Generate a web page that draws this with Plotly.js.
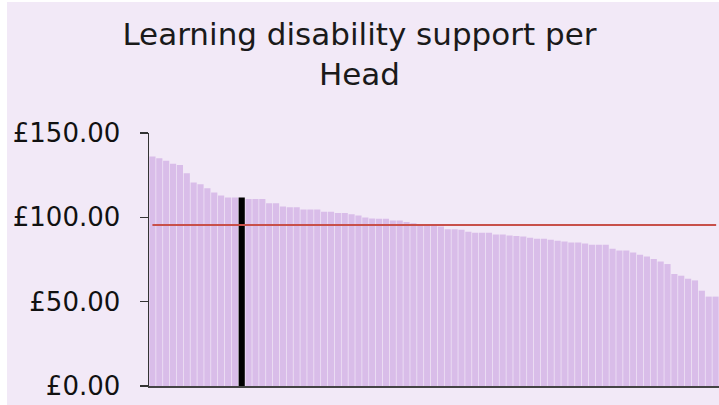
<!DOCTYPE html>
<html>
<head>
<meta charset="utf-8">
<script src="https://cdn.plot.ly/plotly-3.0.1.min.js"></script>
<style>
  html, body { margin: 0; padding: 0; background: #ffffff; width: 719px; height: 405px; overflow: hidden; }
  #chart { position: absolute; left: 7px; top: 2px; width: 712px; height: 403px; }
</style>
</head>
<body>
<div id="chart"></div>
<script>
// Learning disability support per head, sorted descending (one bar per authority)
const supportPerHead = [
  136.0, 135.0, 133.6, 131.7, 131.1, 126.2, 120.6, 119.6, 117.3, 114.7,
  112.9, 111.7, 111.7, 111.7, 110.8, 110.8, 110.8, 108.4, 108.4, 106.4,
  106.0, 106.0, 104.6, 104.6, 104.6, 103.3, 103.3, 102.5, 102.5, 101.9,
  101.1, 99.9, 99.3, 99.1, 99.1, 98.1, 98.1, 97.2, 96.5, 96.0,
  95.3, 95.0, 94.5, 93.0, 93.0, 92.6, 91.4, 90.8, 90.8, 90.8,
  89.8, 89.8, 89.2, 88.9, 88.6, 87.9, 87.3, 87.3, 86.7, 86.1,
  85.6, 85.1, 85.1, 84.5, 83.7, 83.7, 83.7, 81.4, 80.4, 80.4,
  79.2, 77.8, 76.8, 75.3, 73.8, 72.3, 66.4, 65.4, 63.6, 62.6,
  56.5, 53.0, 53.0
];
const highlightedIndex = 13;     // the selected authority (black bar)
const averageValue = 95.4;       // red average line
const yTickValues = [0, 50, 100, 150];
const yTickLabels = ["£0.00", "£50.00", "£100.00", "£150.00"];
const chartTitle = "Learning disability support per<br>Head";

const authorities = supportPerHead.map((_, i) => "Authority " + (i + 1));
const barColors = supportPerHead.map((_, i) => i === highlightedIndex ? "#000000" : "#d9bde9");

const trace = {
  type: "bar",
  x: authorities,
  y: supportPerHead,
  marker: { color: barColors, line: { width: 0 } },
  hoverinfo: "skip"
};

const layout = {
  width: 712,
  height: 403,
  paper_bgcolor: "#f2e9f7",
  plot_bgcolor: "#f2e9f7",
  margin: { l: 142, r: 0, t: 131, b: 18.5, pad: 0 },
  bargap: 0.1,
  showlegend: false,
  font: { family: "DejaVu Sans, Verdana, sans-serif", color: "#111111" },
  title: {
    text: chartTitle,
    font: { family: "DejaVu Sans, Verdana, sans-serif", size: 31, color: "#1a1a1a" },
    x: 0.495, xref: "container", xanchor: "center",
    y: 0.8935, yref: "container", yanchor: "middle"
  },
  xaxis: {
    type: "category",
    showticklabels: false,
    ticks: "",
    showgrid: false,
    zeroline: false,
    showline: true,
    linecolor: "#444444",
    linewidth: 1.5,
    fixedrange: true
  },
  yaxis: {
    range: [0, 150],
    tickvals: yTickValues,
    ticktext: yTickLabels,
    ticks: "outside",
    ticklen: 8,
    tickwidth: 1.5,
    tickcolor: "#333333",
    ticklabelstandoff: 14,
    showgrid: false,
    zeroline: false,
    showline: true,
    linecolor: "#333333",
    linewidth: 1.5,
    tickfont: { family: "DejaVu Sans, Verdana, sans-serif", size: 26, color: "#111111" },
    fixedrange: true
  },
  shapes: [{
    type: "line",
    xref: "paper", yref: "y",
    x0: 0.006, x1: 0.995,
    y0: averageValue, y1: averageValue,
    line: { color: "#c8504a", width: 2 }
  }]
};

Plotly.newPlot("chart", [trace], layout, { displayModeBar: false, staticPlot: true });
</script>
</body>
</html>
